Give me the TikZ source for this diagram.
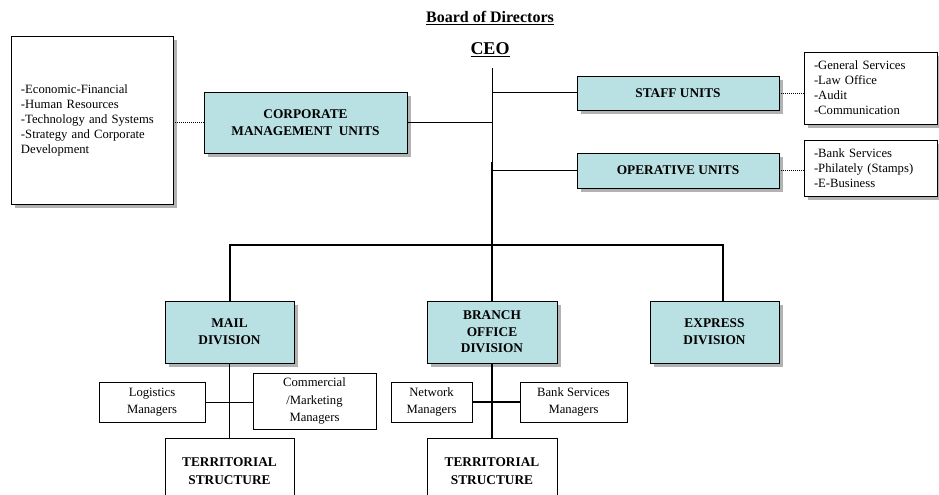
\documentclass[tikz,border=0pt]{standalone}
\usepackage{fontspec}
\setmainfont{Liberation Serif}
\usetikzlibrary{shadows}
\definecolor{unitblue}{RGB}{185,224,227}
\tikzset{
  unitbox/.style={draw, fill=unitblue, align=center, inner sep=0pt,
    font=\bfseries\fontsize{10}{12.5}\selectfont,
    drop shadow={shadow xshift=3pt, shadow yshift=-3pt, fill=black!30, opacity=1}},
  listbox/.style={draw, fill=white, align=left, inner xsep=7.5pt, inner ysep=0pt,
    font=\fontsize{9.5}{11.25}\selectfont,
    drop shadow={shadow xshift=3pt, shadow yshift=-3pt, fill=black!30, opacity=1}},
  mgrbox/.style={draw, fill=white, align=center, inner sep=0pt,
    font=\fontsize{9.5}{13}\selectfont},
  terrbox/.style={draw, fill=white, align=center, inner sep=0pt,
    font=\bfseries\fontsize{10}{13}\selectfont},
  thinline/.style={line width=0.75pt},
  thickline/.style={line width=1.5pt},
  dotline/.style={line width=0.5pt, densely dotted}
}
\begin{document}
\begin{tikzpicture}[x=0.75pt, y=-0.75pt]
\useasboundingbox (0,0) rectangle (939,495);
\clip (0,0) rectangle (939,495);

% top
\node[font=\bfseries\fontsize{12}{14}\selectfont] (board) at (490,18) {\underline{Board of Directors}};
\node[font=\bfseries\fontsize{13.5}{16}\selectfont] (ceo) at (490,50) {\underline{CEO}};

\coordinate (top) at (492,68);
\coordinate (mid) at (492,162);
\coordinate (bus) at (492,245);
\coordinate (xtop) at (723,301);

% units
\node[listbox, text width=106.5pt, minimum height=126pt] (corplist) at (92,120)
  {-Economic-Financial\\-Human Resources\\-Technology and Systems\\-Strategy and Corporate\\Development};
\node[unitbox, minimum width=152.25pt, minimum height=45.75pt] (corp) at (305.5,122.5) {CORPORATE\\MANAGEMENT~ UNITS};
\node[unitbox, minimum width=151.5pt, minimum height=25.5pt] (staff) at (678,93) {STAFF UNITS};
\node[unitbox, minimum width=151.5pt, minimum height=26.25pt] (oper) at (678,170.5) {OPERATIVE UNITS};
\node[listbox, text width=84.75pt, minimum height=54pt] (stafflist) at (870.5,88)
  {-General Services\\-Law Office\\-Audit\\-Communication};
\node[listbox, text width=84.75pt, minimum height=42pt] (operlist) at (870.5,168)
  {-Bank Services\\-Philately (Stamps)\\-E-Business};

% divisions
\node[unitbox, minimum width=96.75pt, minimum height=46.5pt] (mail) at (229.5,332) {MAIL\\DIVISION};
\node[unitbox, minimum width=97.5pt, minimum height=46.5pt] (branch) at (492,332) {BRANCH\\OFFICE\\DIVISION};
\node[unitbox, minimum width=96.75pt, minimum height=46.5pt] (express) at (714.5,332) {EXPRESS\\DIVISION};

\node[mgrbox, minimum width=79.5pt, minimum height=30pt] (logist) at (152,402) {Logistics\\Managers};
\node[mgrbox, minimum width=92.25pt, minimum height=42pt] (comm) at (314.5,401) {Commercial\\/Marketing\\Managers};
\node[mgrbox, minimum width=60.75pt, minimum height=30pt] (network) at (431.5,402) {Network\\Managers};
\node[mgrbox, minimum width=80.25pt, minimum height=30pt] (bankmgr) at (573.5,402) {Bank Services\\Managers};

\node[terrbox, minimum width=96.75pt, minimum height=49.5pt] (terr1) at (229.5,471) {TERRITORIAL\\STRUCTURE};
\node[terrbox, minimum width=97.5pt, minimum height=49.5pt] (terr2) at (492,471) {TERRITORIAL\\STRUCTURE};

% connectors
\draw[thinline] (top) -- (mid);
\draw[thickline] (mid) -- (branch.north);
\draw[thinline] (corp.east) -- (corp.east -| top);
\draw[thinline] (staff.west) -- (staff.west -| top);
\draw[thinline] (oper.west) -- (oper.west -| top);
\draw[dotline] (corplist.east |- corp.west) -- (corp.west);
\draw[dotline] (staff.east) -- (staff.east -| stafflist.west);
\draw[dotline] (oper.east) -- (oper.east -| operlist.west);
\draw[thickline] (mail.north) |- (bus) -| (xtop);
\draw[thinline] (mail.south) -- (terr1.north);
\draw[thinline] (logist.east) -- (logist.east -| comm.west);
\draw[thickline] (branch.south) -- (terr2.north);
\draw[thickline] (network.east) -- (bankmgr.west);
\end{tikzpicture}
\end{document}
